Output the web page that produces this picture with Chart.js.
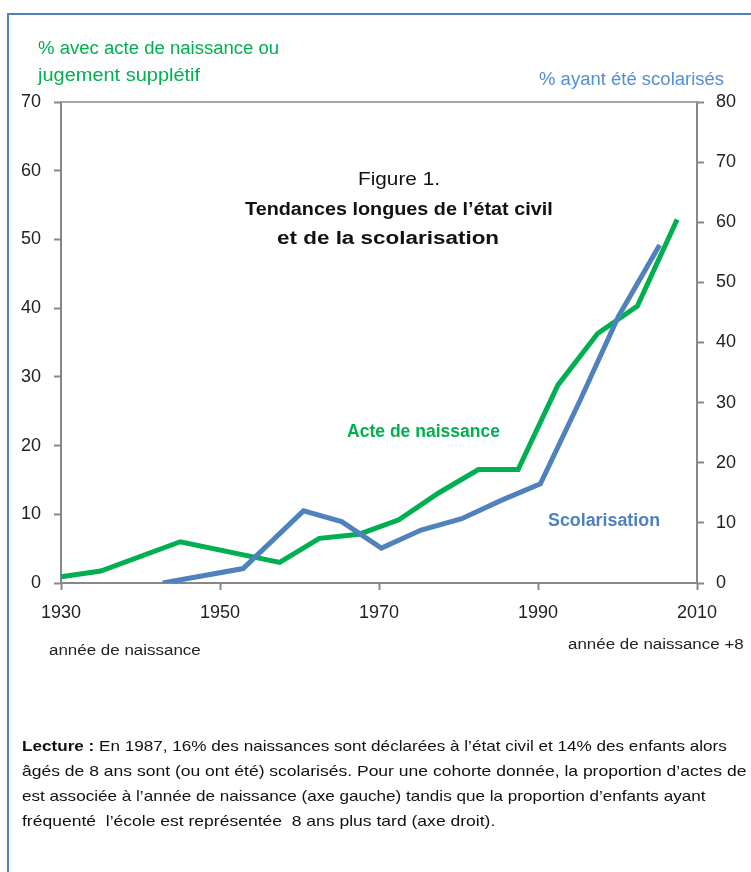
<!DOCTYPE html>
<html>
<head>
<meta charset="utf-8">
<script src="https://cdn.jsdelivr.net/npm/chart.js@4/dist/chart.umd.min.js"></script>
<style>
  html, body { margin: 0; padding: 0; background: #fff; }
  #wrap { position: relative; width: 751px; height: 872px; overflow: hidden; }
  #c { position: absolute; left: 0; top: 0; }
  .t { position: absolute; white-space: nowrap; line-height: 1; font-family: "Liberation Sans", Arial, sans-serif; transform-origin: 0 0; }
</style>
</head>
<body>
<div id="wrap"><canvas id="c" width="751" height="872"></canvas></div>
<script>
// ---- data ----
const acteYears = [1930, 1935, 1945, 1957.5, 1962.5, 1967.5, 1972.5, 1977.5, 1982.5, 1987.5, 1992.5, 1997.5, 2002.5, 2007.5];
const acteValues = [0.9, 1.75, 6.0, 3.0, 6.5, 7.1, 9.2, 13.1, 16.5, 16.5, 28.8, 36.3, 40.3, 52.9];
const scolYears = [1942.8, 1952.9, 1960.5, 1965.3, 1970.3, 1975.3, 1980.4, 1985.3, 1990.3, 1995.3, 2000.1, 2005.3];
const scolValues = [0, 2.4, 12.0, 10.2, 5.8, 8.8, 10.7, 13.7, 16.5, 30.4, 44.3, 56.2];
const xTicks = [1930, 1950, 1970, 1990, 2010];
const leftTicks = [0, 10, 20, 30, 40, 50, 60, 70];
const rightTicks = [0, 10, 20, 30, 40, 50, 60, 70, 80];

const GREEN = '#00B050';
const BLUE = '#4F81BD';
const AXIS = '#878787';
const FONT = '"Liberation Sans", Arial, sans-serif';

const frame = {
  id: 'frame',
  beforeDraw(chart) {
    const ctx = chart.ctx;
    ctx.save();
    ctx.strokeStyle = BLUE;
    ctx.lineWidth = 2;
    ctx.beginPath();
    ctx.moveTo(8, 872); ctx.lineTo(8, 14); ctx.lineTo(751, 14);
    ctx.stroke();
    ctx.restore();
  },
  afterDatasetsDraw(chart) {
    const a = chart.chartArea, ctx = chart.ctx;
    ctx.save();
    ctx.strokeStyle = '#A6A6A6';
    ctx.lineWidth = 2;
    ctx.beginPath();
    ctx.moveTo(a.left, a.top); ctx.lineTo(a.right, a.top);
    ctx.stroke();
    ctx.restore();
  }
};

new Chart(document.getElementById('c'), {
  type: 'line',
  data: {
    datasets: [
      { label: 'Acte de naissance', data: acteYears.map((x, i) => ({ x, y: acteValues[i] })), borderColor: GREEN, borderWidth: 5, pointRadius: 0, tension: 0, yAxisID: 'y', order: 2 },
      { label: 'Scolarisation', data: scolYears.map((x, i) => ({ x, y: scolValues[i] })), borderColor: BLUE, borderWidth: 5, pointRadius: 0, tension: 0, yAxisID: 'y1', order: 1 }
    ]
  },
  options: {
    responsive: false,
    animation: false,
    layout: { padding: { top: 102, left: 0, right: 0, bottom: 0 } },
    plugins: { legend: { display: false }, tooltip: { enabled: false } },
    scales: {
      x: {
        type: 'linear', min: 1930, max: 2010,
        afterBuildTicks: s => { s.ticks = xTicks.map(v => ({ value: v })); },
        afterFit: s => { s.height = 289; },
        ticks: { font: { family: FONT, size: 18 }, color: '#222', padding: 12, maxRotation: 0, callback: v => String(v) },
        grid: { drawOnChartArea: false, tickLength: 7, color: AXIS, tickWidth: 2 },
        border: { color: AXIS, width: 2 }
      },
      y: {
        position: 'left', min: 0, max: 70,
        afterBuildTicks: s => { s.ticks = leftTicks.map(v => ({ value: v })); },
        afterFit: s => { s.width = 61; },
        ticks: { font: { family: FONT, size: 18 }, color: '#222', padding: 13 },
        grid: { drawOnChartArea: false, tickLength: 7, color: AXIS, tickWidth: 2 },
        border: { color: AXIS, width: 2 }
      },
      y1: {
        position: 'right', min: 0, max: 80,
        afterBuildTicks: s => { s.ticks = rightTicks.map(v => ({ value: v })); },
        afterFit: s => { s.width = 54; },
        ticks: { font: { family: FONT, size: 18 }, color: '#222', padding: 12 },
        grid: { drawOnChartArea: false, tickLength: 7, color: AXIS, tickWidth: 2 },
        border: { color: AXIS, width: 2 }
      }
    }
  },
  plugins: [frame]
});

// ---- text overlays ----
const wrap = document.getElementById('wrap');
function place(html, x, baseline, size, weight, color, width, align) {
  const d = document.createElement('div');
  d.className = 't';
  d.innerHTML = html;
  d.style.fontSize = size + 'px';
  d.style.fontWeight = weight;
  d.style.color = color;
  d.style.top = (baseline - 0.8465 * size) + 'px';
  wrap.appendChild(d);
  const w = d.offsetWidth;
  const s = width / w;
  let left = x;
  if (align === 'right') left = x - width;
  else if (align === 'center') left = x - width / 2;
  d.style.left = left + 'px';
  d.style.transform = 'scaleX(' + s + ')';
}
place('% avec acte de naissance ou', 38, 54, 18, 'normal', GREEN, 241);
place('jugement supplétif', 38, 81, 18, 'normal', GREEN, 162);
place('% ayant été scolarisés', 724, 85, 18, 'normal', '#558ED5', 185, 'right');
place('Figure 1.', 399, 185, 19, 'normal', '#111', 82, 'center');
place('Tendances longues de l’état civil', 399, 215, 18, 'bold', '#111', 308, 'center');
place('et de la scolarisation', 388, 244, 18, 'bold', '#111', 222, 'center');
place('Acte de naissance', 347, 437, 18, 'bold', GREEN, 153);
place('Scolarisation', 548, 526, 18, 'bold', BLUE, 112);
place('année de naissance', 49, 655, 15.5, 'normal', '#222', 152);
place('année de naissance +8', 744, 649, 15.5, 'normal', '#222', 176, 'right');
place('<b>Lecture :</b> En 1987, 16% des naissances sont déclarées à l’état civil et 14% des enfants alors', 22, 751, 15, 'normal', '#111', 705);
place('âgés de 8 ans sont (ou ont été) scolarisés. Pour une cohorte donnée, la proportion d’actes de', 22, 776, 15, 'normal', '#111', 724);
place('est associée à l’année de naissance (axe gauche) tandis que la proportion d’enfants ayant', 22, 801, 15, 'normal', '#111', 684);
place('fréquenté&nbsp; l’école est représentée&nbsp; 8 ans plus tard (axe droit).', 22, 826, 15, 'normal', '#111', 473);
</script>
</body>
</html>
